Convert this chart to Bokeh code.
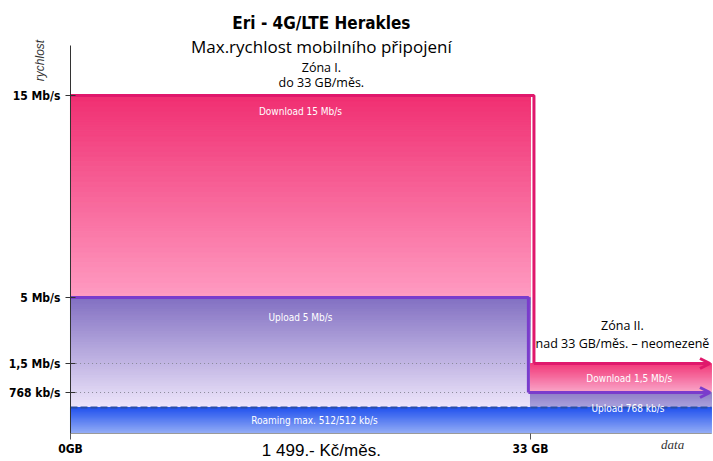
import numpy as np
from bokeh.plotting import figure
from bokeh.models import Range1d, FixedTicker, Label, Arrow, OpenHead
from bokeh.embed import file_html
from bokeh.resources import INLINE

# ---------------- data ----------------
zone_names = ["Zóna I.", "Zóna II."]
zone_notes = ["do 33 GB/měs.", "nad 33 GB/měs. – neomezeně"]
zone_limit_gb = 33
download_mbps = [15, 1.5]
upload_mbps = [5, 0.768]
roaming_mbps = 0.512
download_texts = ["Download 15 Mb/s", "Download 1,5 Mb/s"]
upload_texts = ["Upload 5 Mb/s", "Upload 768 kb/s"]
roaming_text = "Roaming max. 512/512 kb/s"
y_tick_speeds = [15, 5, 1.5, 0.768]
y_tick_labels = ["15 Mb/s", "5 Mb/s", "1,5 Mb/s", "768 kb/s"]
x_tick_gb = [0, 33]
x_tick_labels = ["0GB", "33 GB"]
price_text = "1 499.- Kč/měs."
title_text = "Eri - 4G/LTE Herakles"
subtitle_text = "Max.rychlost mobilního připojení"

# ---------------- schematic (non-linear) speed axis ----------------
SCALE_SPEEDS = [0, 0.512, 0.768, 1.5, 5, 15]
SCALE_POS = [0, 26, 41, 70, 136, 338]
X_START, X_END = -5.02, 46.13
Y_START, Y_END = -28, 433
AXIS_TOP = 388
DATA_END = 45.98


def disp(v):
    return float(np.interp(v, SCALE_SPEEDS, SCALE_POS))


def hex2rgb(h):
    h = h.lstrip("#")
    return [int(h[i:i + 2], 16) for i in (0, 2, 4)]


def gradient(p, left, right, bottom, top, c_top, c_bottom, n=40):
    ct, cb = np.array(hex2rgb(c_top)), np.array(hex2rgb(c_bottom))
    edges = np.linspace(bottom, top, n + 1)
    cols = []
    for i in range(n):
        t = (i + 0.5) / n
        c = cb + (ct - cb) * t
        cols.append("#%02x%02x%02x" % tuple(int(round(v)) for v in c))
    p.quad(left=[left] * n, right=[right] * n, bottom=list(edges[:-1]),
           top=list(edges[1:]), fill_color=cols, line_color=cols,
           line_width=1)


p = figure(width=713, height=461, output_backend="svg", toolbar_location=None,
           x_range=Range1d(X_START, X_END), y_range=Range1d(Y_START, Y_END),
           min_border_left=0, min_border_right=0, min_border_top=0,
           min_border_bottom=0)
p.outline_line_color = None
p.xgrid.visible = False
p.ygrid.visible = False
p.background_fill_color = "white"

z = zone_limit_gb
d_dl1, d_dl2 = disp(download_mbps[0]), disp(download_mbps[1])
d_ul1, d_ul2 = disp(upload_mbps[0]), disp(upload_mbps[1])
d_ro = disp(roaming_mbps)
xe = DATA_END

# fills
gradient(p, 0, z, d_ul1, d_dl1, "#f02f72", "#ff9cc2")
gradient(p, 0, z, d_ro, d_ul1, "#8270c2", "#eee6fb")
gradient(p, z, xe, d_ul2, d_dl2, "#f23a7a", "#f9aacb")
gradient(p, z, xe, d_ro, d_ul2, "#9080c8", "#aca4de")
gradient(p, 0, xe, 0, d_ro, "#2454ee", "#98b0f6")

# dotted reference lines in zone I
for s in (download_mbps[1], upload_mbps[1]):
    p.line([0.4, z - 0.3], [disp(s)] * 2, line_color="#8a8a9a",
           line_dash="1 3", line_width=1)

# roaming dashed top
p.line([0, xe], [d_ro, d_ro], line_color="#2a4ea6", line_dash="7 3",
       line_width=2)

# borders
pink = "#e0186c"
purple = "#7a3ccc"
gp, gu = 0.25, -0.15
p.line([0, z + gp, z + gp], [d_dl1, d_dl1, d_dl2], line_color=pink,
       line_width=3)
p.line([0, z + gu, z + gu], [d_ul1, d_ul1, d_ul2], line_color=purple,
       line_width=3)
p.add_layout(Arrow(x_start=z + gp, y_start=d_dl2, x_end=xe - 0.1,
                   y_end=d_dl2, line_color=pink, line_width=3,
                   end=OpenHead(size=10, line_color=pink, line_width=3)))
p.add_layout(Arrow(x_start=z + gu, y_start=d_ul2, x_end=xe - 0.1,
                   y_end=d_ul2, line_color=purple, line_width=3,
                   end=OpenHead(size=10, line_color=purple, line_width=3)))

COND = "'DejaVu Sans Condensed', 'Roboto Condensed', Roboto, sans-serif"

# axes (drawn at fixed locations inside the frame)
yt = [int(round(disp(s))) for s in y_tick_speeds]
ya = p.yaxis[0]
ya.fixed_location = 0
ya.bounds = (0, AXIS_TOP)
ya.ticker = FixedTicker(ticks=yt)
ya.major_label_overrides = dict(zip(yt, y_tick_labels))
ya.minor_tick_line_color = None
ya.major_tick_in = 5
ya.major_tick_out = 5
ya.major_label_standoff = 5
ya.major_label_text_font = COND
ya.major_label_text_font_style = "bold"
ya.major_label_text_font_size = "12px"
ya.major_label_text_color = "black"
ya.axis_line_color = "#333333"
ya.major_tick_line_color = "#333333"

xa = p.xaxis[0]
xa.fixed_location = 0
xa.bounds = (0, xe)
xa.ticker = FixedTicker(ticks=x_tick_gb)
xa.major_label_overrides = dict(zip(x_tick_gb, x_tick_labels))
xa.minor_tick_line_color = None
xa.major_tick_in = 0
xa.major_tick_out = 6
xa.major_label_standoff = 2
xa.major_label_text_font = COND
xa.major_label_text_font_style = "bold"
xa.major_label_text_font_size = "12px"
xa.major_label_text_color = "black"
xa.axis_line_color = "#9a9a9a"
xa.major_tick_line_color = "#555555"


# labels
def lab(x, y, text, font="Open Sans", size="12px", color="black",
        style="normal", align="center", baseline="middle", angle=0):
    p.add_layout(Label(x=x, y=y, text=text, text_font=font,
                       text_font_size=size, text_color=color,
                       text_font_style=style, text_align=align,
                       text_baseline=baseline, angle=angle))


cx = 18.0
lab(cx, 411, title_text, font=COND, size="17px", style="bold")
lab(cx, 387, subtitle_text, size="17px")
lab(cx, 366, zone_names[0], size="12.5px")
lab(cx, 351, zone_notes[0], size="12.5px")
lab(39.6, 108, zone_names[1], size="12.5px")
lab(39.6, 90, zone_notes[1], size="12.5px")

lab(z / 2, d_dl1 - 16, download_texts[0], font=COND, size="10px",
    color="white")
lab(z / 2, d_ul1 - 20, upload_texts[0], font=COND, size="10px",
    color="white")
lab(z / 2 + 1, d_ro / 2, roaming_text, font=COND, size="10px",
    color="white")
lab((z + xe) / 2 + 0.6, (d_dl2 + d_ul2) / 2, download_texts[1], font=COND,
    size="10px", color="white")
lab((z + xe) / 2 + 0.5, d_ro - 1, upload_texts[1], font=COND,
    size="10px", color="white")

lab(-2.2, 373, "rychlost", font="Liberation Sans", size="12px",
    style="italic", angle=np.pi / 2, color="#333333")
lab(43.2, -11, "data", font="Liberation Serif", size="13px",
    style="italic", color="#333333")
lab(cx, -17, price_text, font="Liberation Sans", size="17px")

open("out.html", "w").write(file_html(p, INLINE))
